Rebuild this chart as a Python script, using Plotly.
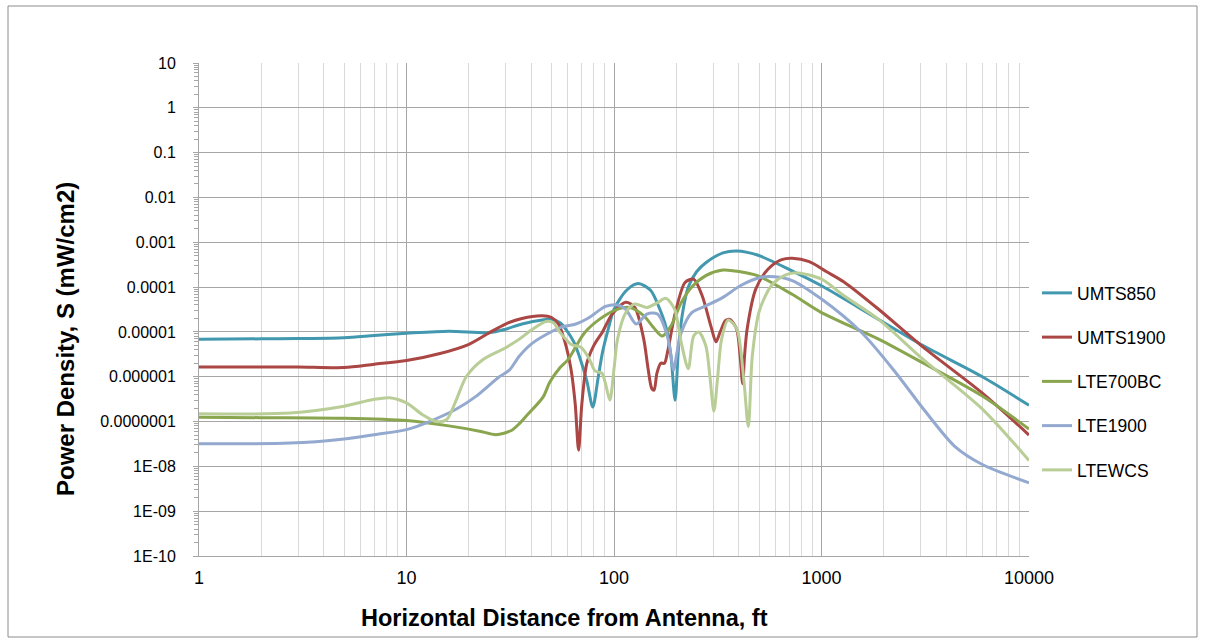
import plotly.graph_objects as go

# ---------------- data ----------------
umts850_x = [1, 2, 3, 5, 7, 10, 16, 25, 30, 36, 45, 50, 55, 59, 64, 68, 74, 79, 84, 88, 94, 100, 115, 131, 150, 165, 178, 188, 197, 205, 215, 228, 250, 277, 335, 391, 491, 721, 1000, 1884, 3100, 5960, 10000]
umts850_y = [6.9e-6, 7.0e-6, 7.1e-6, 7.4e-6, 8.3e-6, 9.3e-6, 1.04e-5, 9.6e-6, 1.15e-5, 1.5e-5, 1.85e-5, 1.9e-5, 1.6e-5, 1.1e-5, 6e-6, 2.9e-6, 8e-7, 2.1e-7, 1.0e-6, 3.5e-6, 1.2e-5, 3.2e-5, 8.5e-5, 1.2e-4, 8.5e-5, 3.5e-5, 1.3e-5, 3.0e-6, 3.0e-7, 5e-6, 3e-5, 1.0e-4, 2.2e-4, 3.5e-4, 5.8e-4, 6.4e-4, 5.2e-4, 2.3e-4, 1.07e-4, 1.9e-5, 4.9e-6, 1.0e-6, 2.3e-7]

umts1900_x = [1, 2, 3, 5, 7, 10, 14.5, 20, 25, 30, 36, 45, 50, 54, 58, 62, 65, 67.5, 70, 74, 80, 88, 98, 114, 126, 139, 146, 152, 156, 161, 168, 175, 181, 196, 220, 242, 266, 293, 310, 325, 345, 362, 390, 405, 417, 426, 438, 482, 552, 643, 722, 873, 1059, 1283, 1884, 3100, 5960, 10000]
umts1900_y = [1.65e-6, 1.65e-6, 1.65e-6, 1.6e-6, 1.9e-6, 2.3e-6, 3.3e-6, 5.3e-6, 9.5e-6, 1.5e-5, 2.0e-5, 2.3e-5, 2.1e-5, 1.5e-5, 6e-6, 1.5e-6, 2.5e-7, 2.3e-8, 2.5e-7, 2.0e-6, 5e-6, 1.0e-5, 2.5e-5, 4.6e-5, 3.5e-5, 7e-6, 1.5e-6, 5.5e-7, 5.0e-7, 1.2e-6, 2.0e-6, 2.0e-6, 3.5e-6, 2.3e-5, 1.27e-4, 1.5e-4, 6.4e-5, 1.35e-5, 6e-6, 1.0e-5, 1.8e-5, 1.9e-5, 1.15e-5, 3e-6, 7e-7, 3e-6, 1.15e-5, 9e-5, 2.5e-4, 4.1e-4, 4.4e-4, 3.7e-4, 2.2e-4, 1.3e-4, 3.2e-5, 4.5e-6, 4.3e-7, 5e-8]

lte700bc_x = [1, 2, 5, 10, 16, 22.5, 27, 32, 35, 37.6, 45.5, 49, 55, 60, 66, 72, 85, 100, 119, 139, 155, 171, 188, 211, 237, 277, 335, 406, 491, 722, 1000, 1884, 3100, 5960, 10000]
lte700bc_y = [1.25e-7, 1.22e-7, 1.18e-7, 1.05e-7, 8e-8, 6.1e-8, 5.1e-8, 6.3e-8, 9e-8, 1.3e-7, 3.5e-7, 7.5e-7, 1.6e-6, 2.4e-6, 5e-6, 9.5e-6, 1.9e-5, 3.0e-5, 3.5e-5, 2.3e-5, 1.25e-5, 8.1e-6, 1.35e-5, 4.5e-5, 1.0e-4, 1.8e-4, 2.4e-4, 2.2e-4, 1.8e-4, 6.9e-5, 2.7e-5, 6.9e-6, 2.0e-6, 3.7e-7, 6.8e-8]

lte1900_x = [1, 2.75, 5, 7, 10, 12.9, 17.4, 21.7, 28, 31.3, 35, 40.6, 55, 65.5, 76, 91, 104, 114, 128, 144, 162, 181, 194, 200, 211, 237, 277, 335, 406, 511, 596, 722, 1000, 1560, 2280, 3100, 4385, 5960, 10000]
lte1900_y = [3.2e-8, 3.3e-8, 4.1e-8, 5.1e-8, 6.6e-8, 1.0e-7, 1.9e-7, 3.7e-7, 1.0e-6, 1.4e-6, 2.9e-6, 5.7e-6, 1.25e-5, 1.5e-5, 2.1e-5, 3.7e-5, 4e-5, 3.2e-5, 1.5e-5, 2.5e-5, 2.5e-5, 8e-6, 1.4e-6, 3e-6, 9.7e-6, 2.7e-5, 3.8e-5, 5.9e-5, 1.07e-4, 1.65e-4, 1.7e-4, 1.4e-4, 5.4e-5, 9.7e-6, 1.23e-6, 1.9e-7, 2.8e-8, 1.1e-8, 4.3e-9]

ltewcs_x = [1, 2.75, 5, 6.9, 8.3, 10, 12, 13.9, 15.6, 17.4, 19.4, 23.3, 30.2, 35, 40, 47, 51, 55, 62, 69.5, 76, 81, 87.4, 91, 95.5, 100, 104, 114, 126, 144, 162, 178, 196, 211, 228, 242, 256, 277, 290, 303, 316, 330, 355, 391, 422, 444, 464, 501, 573, 668, 750, 1000, 1283, 1884, 3100, 5960, 10000]
ltewcs_y = [1.5e-7, 1.55e-7, 2.2e-7, 3.1e-7, 3.4e-7, 2.6e-7, 1.4e-7, 1.0e-7, 1.1e-7, 3.1e-7, 1.0e-6, 2.4e-6, 4.5e-6, 6.9e-6, 1.1e-5, 1.7e-5, 1.6e-5, 9.7e-6, 5.3e-6, 4.5e-6, 2.5e-6, 1.35e-6, 1.2e-6, 7e-7, 3.0e-7, 1.5e-6, 6.9e-6, 2.7e-5, 4.2e-5, 3.5e-5, 4.5e-5, 5.6e-5, 3.2e-5, 5.7e-6, 1.5e-6, 8.1e-6, 1.0e-5, 4.9e-6, 1e-6, 1.7e-7, 1e-6, 6.9e-6, 1.85e-5, 1.15e-5, 8.7e-7, 7.7e-8, 2.9e-6, 2.9e-5, 1.07e-4, 1.85e-4, 2.1e-4, 1.5e-4, 6.4e-5, 1.9e-5, 2.4e-6, 1.9e-7, 1.35e-8]

series_names = ["UMTS850", "UMTS1900", "LTE700BC", "LTE1900", "LTEWCS"]
series_colors = ["#4198AF", "#AA4643", "#89A54E", "#93A9CF", "#B9CD96"]

x_tick_vals = [1, 10, 100, 1000, 10000]
x_tick_text = ["1", "10", "100", "1000", "10000"]
y_tick_vals = [10, 1, 0.1, 0.01, 0.001, 1e-4, 1e-5, 1e-6, 1e-7, 1e-8, 1e-9, 1e-10]
y_tick_text = ["10", "1", "0.1", "0.01", "0.001", "0.0001", "0.00001", "0.000001",
               "0.0000001", "1E-08", "1E-09", "1E-10"]

x_title = "Horizontal Distance from Antenna, ft"
y_title = "Power Density, S (mW/cm2)"

# ---------------- figure ----------------
W, H = 1205, 643
L, R, T, B = 199, 176, 63, 87
pw, ph = W - L - R, H - T - B

FONT = "Liberation Sans, Arial, sans-serif"
MAJ = "#A6A6A6"
MIN = "#D9D9D9"

fig = go.Figure()
xs = [umts850_x, umts1900_x, lte700bc_x, lte1900_x, ltewcs_x]
ys = [umts850_y, umts1900_y, lte700bc_y, lte1900_y, ltewcs_y]
for name, color, x, y in zip(series_names, series_colors, xs, ys):
    fig.add_trace(go.Scatter(
        x=x, y=y, name=name, mode="lines", legendgroup=name,
        line=dict(color=color, width=3, shape="spline", smoothing=0.8),
    ))

x_minor = [m * 10 ** k for k in range(0, 4) for m in range(2, 10)]
y_minor = [m * 10.0 ** k for k in range(-10, 1) for m in range(2, 10)]

fig.update_xaxes(
    type="log", range=[0, 4],
    tickmode="array", tickvals=x_tick_vals, ticktext=x_tick_text,
    showgrid=True, gridcolor=MAJ, gridwidth=1,
    showline=True, linecolor=MAJ, linewidth=1, mirror=False,
    ticks="", ticklabelstandoff=5,
    tickfont=dict(family=FONT, size=18, color="#000000"),
    minor=dict(tickmode="array", tickvals=x_minor, showgrid=True,
               gridcolor=MIN, gridwidth=1, ticks=""),
    zeroline=False,
)
fig.update_yaxes(
    type="log", range=[-10, 1],
    tickmode="array", tickvals=y_tick_vals, ticktext=y_tick_text,
    showgrid=True, gridcolor=MAJ, gridwidth=1,
    showline=True, linecolor=MAJ, linewidth=1,
    ticks="outside", ticklen=5, tickcolor=MAJ, ticklabelstandoff=14,
    tickfont=dict(family=FONT, size=16, color="#000000"),
    minor=dict(tickmode="array", tickvals=y_minor, showgrid=False,
               ticks="outside", ticklen=4, tickcolor=MAJ),
    zeroline=False,
)

def px(xp):
    return (xp - L) / pw

def py(yp):
    return (H - B - yp) / ph

fig.add_annotation(text="<b>" + x_title + "</b>", xref="paper", yref="paper",
                   x=px(564), y=py(618), showarrow=False, xanchor="center", yanchor="middle",
                   font=dict(family=FONT, size=23.5, color="#000000"))
fig.add_annotation(text="<b>" + y_title + "</b>", xref="paper", yref="paper",
                   x=px(65), y=py(339), showarrow=False, textangle=-90,
                   xanchor="center", yanchor="middle",
                   font=dict(family=FONT, size=24, color="#000000"))

fig.add_shape(type="rect", xref="paper", yref="paper",
              x0=px(8), x1=px(1197), y0=py(637), y1=py(6),
              line=dict(color="#8C8C8C", width=1), layer="below")

fig.update_layout(
    width=W, height=H,
    margin=dict(l=L, r=R, t=T, b=B, autoexpand=False),
    paper_bgcolor="#FFFFFF", plot_bgcolor="#FFFFFF",
    showlegend=True,
    legend=dict(x=px(1037), y=py(275), xanchor="left", yanchor="top",
                font=dict(family=FONT, size=17.5, color="#000000"),
                tracegroupgap=18.5, itemwidth=30, bgcolor="rgba(0,0,0,0)"),
    font=dict(family=FONT),
)

fig.write_html("out.html", config={"displayModeBar": False},
               post_script="document.body.style.margin='0';document.body.style.overflow='hidden';")
